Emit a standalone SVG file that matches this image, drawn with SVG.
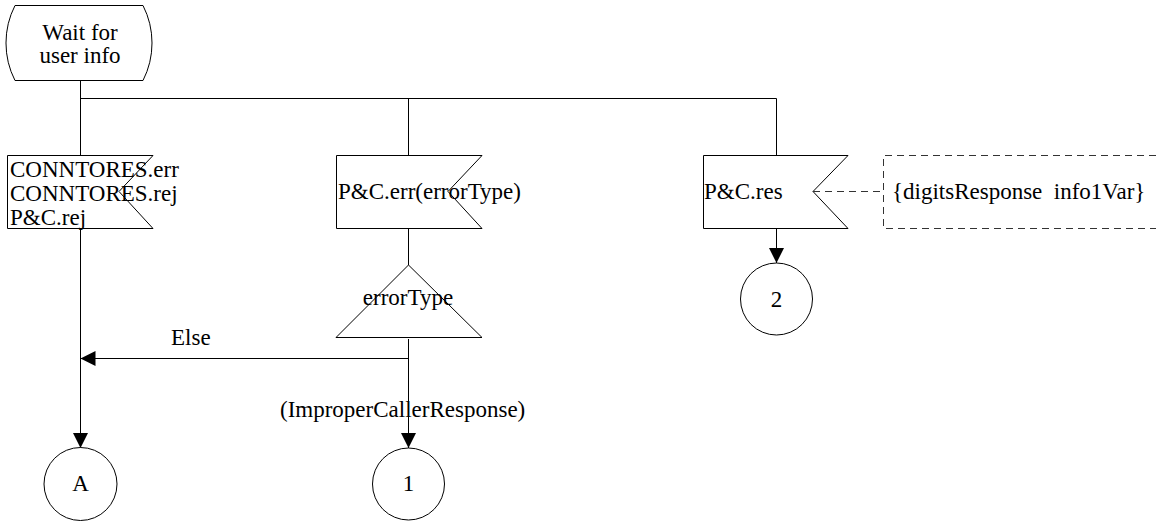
<svg xmlns="http://www.w3.org/2000/svg" width="1156" height="524" viewBox="0 0 1156 524">
  <style>
    .shape { fill: #ffffff; stroke: #000000; stroke-width: 1; }
    .line { fill: none; stroke: #000000; stroke-width: 1; }
    .dash { fill: none; stroke: #333333; stroke-width: 1; stroke-dasharray: 7 5; }
    text { font-family: 'Liberation Serif', 'DejaVu Serif', 'Times New Roman', serif; font-size: 23px; fill: #000000; }
    .mid { text-anchor: middle; }
  </style>
  <defs>
    <marker id="arrow" viewBox="0 0 10 10" refX="10" refY="5" markerWidth="15" markerHeight="15" markerUnits="userSpaceOnUse" orient="auto">
      <path d="M0,0 L10,5 L0,10 Z" fill="#000000"/>
    </marker>
  </defs>

  <rect width="1156" height="524" fill="#ffffff"/>

  <g font-family="Liberation Serif, DejaVu Serif, serif">
  <!-- flow lines between symbols -->
  <g id="connectors">
    <path class="line" d="M80.5,80 V155"/>
    <path class="line" d="M80.5,98.5 H776.5"/>
    <path class="line" d="M408.5,98.5 V155"/>
    <path class="line" d="M776.5,98.5 V155"/>
    <path class="line" d="M80.5,228 V448" marker-end="url(#arrow)"/>
    <path class="line" d="M408.5,228 V265"/>
    <path class="line" d="M408.5,339 V448" marker-end="url(#arrow)"/>
    <path class="line" d="M408.5,358.5 H80.5" marker-end="url(#arrow)"/>
    <path class="line" d="M776.5,228 V263" marker-end="url(#arrow)"/>
    <path class="dash" d="M813,191.5 H883"/>
    <text x="171" y="345">Else</text>
    <text x="280" y="417">(ImproperCallerResponse)</text>
  </g>

  <!-- state -->
  <g id="state-wait">
    <path class="shape" d="M15,5.5 H143 A82.6,82.6 0 0 1 143,80.5 H15 A82.6,82.6 0 0 1 15,5.5 Z"/>
    <text class="mid" x="80" y="40">Wait for</text>
    <text class="mid" x="80" y="63">user info</text>
  </g>

  <!-- input signals -->
  <g id="input-errors">
    <path class="shape" d="M7.5,155.5 H153 L119,191.5 L153,228.5 H7.5 Z"/>
    <text x="10" y="177">CONNTORES.err</text>
    <text x="10" y="201">CONNTORES.rej</text>
    <text x="10" y="225">P&amp;C.rej</text>
  </g>

  <g id="input-pc-err">
    <path class="shape" d="M336.5,155.5 H482 L448,191.5 L482,228.5 H336.5 Z"/>
    <text x="338" y="199">P&amp;C.err(errorType)</text>
  </g>

  <g id="input-pc-res">
    <path class="shape" d="M703.5,155.5 H848 L813,191.5 L848,228.5 H703.5 Z"/>
    <text x="704" y="199">P&amp;C.res</text>
  </g>

  <!-- comment attached to P&C.res -->
  <g id="comment-digits">
    <path class="dash" d="M1156,155.5 H883.5 V228.5 H1156"/>
    <text x="892" y="199" xml:space="preserve">{digitsResponse  info1Var}</text>
  </g>

  <!-- decision -->
  <g id="decision-errortype">
    <path class="shape" d="M408.5,265 L482,337.5 H336 Z"/>
    <text class="mid" x="408" y="305">errorType</text>
  </g>

  <!-- connectors out -->
  <g id="connector-a">
    <circle class="shape" cx="80.5" cy="484" r="36.5"/>
    <text class="mid" x="80.5" y="491">A</text>
  </g>

  <g id="connector-1">
    <circle class="shape" cx="408.5" cy="484" r="36"/>
    <text class="mid" x="408.5" y="491">1</text>
  </g>

  <g id="connector-2">
    <circle class="shape" cx="776.5" cy="299" r="36"/>
    <text class="mid" x="776.5" y="307">2</text>
  </g>
  </g>
</svg>
